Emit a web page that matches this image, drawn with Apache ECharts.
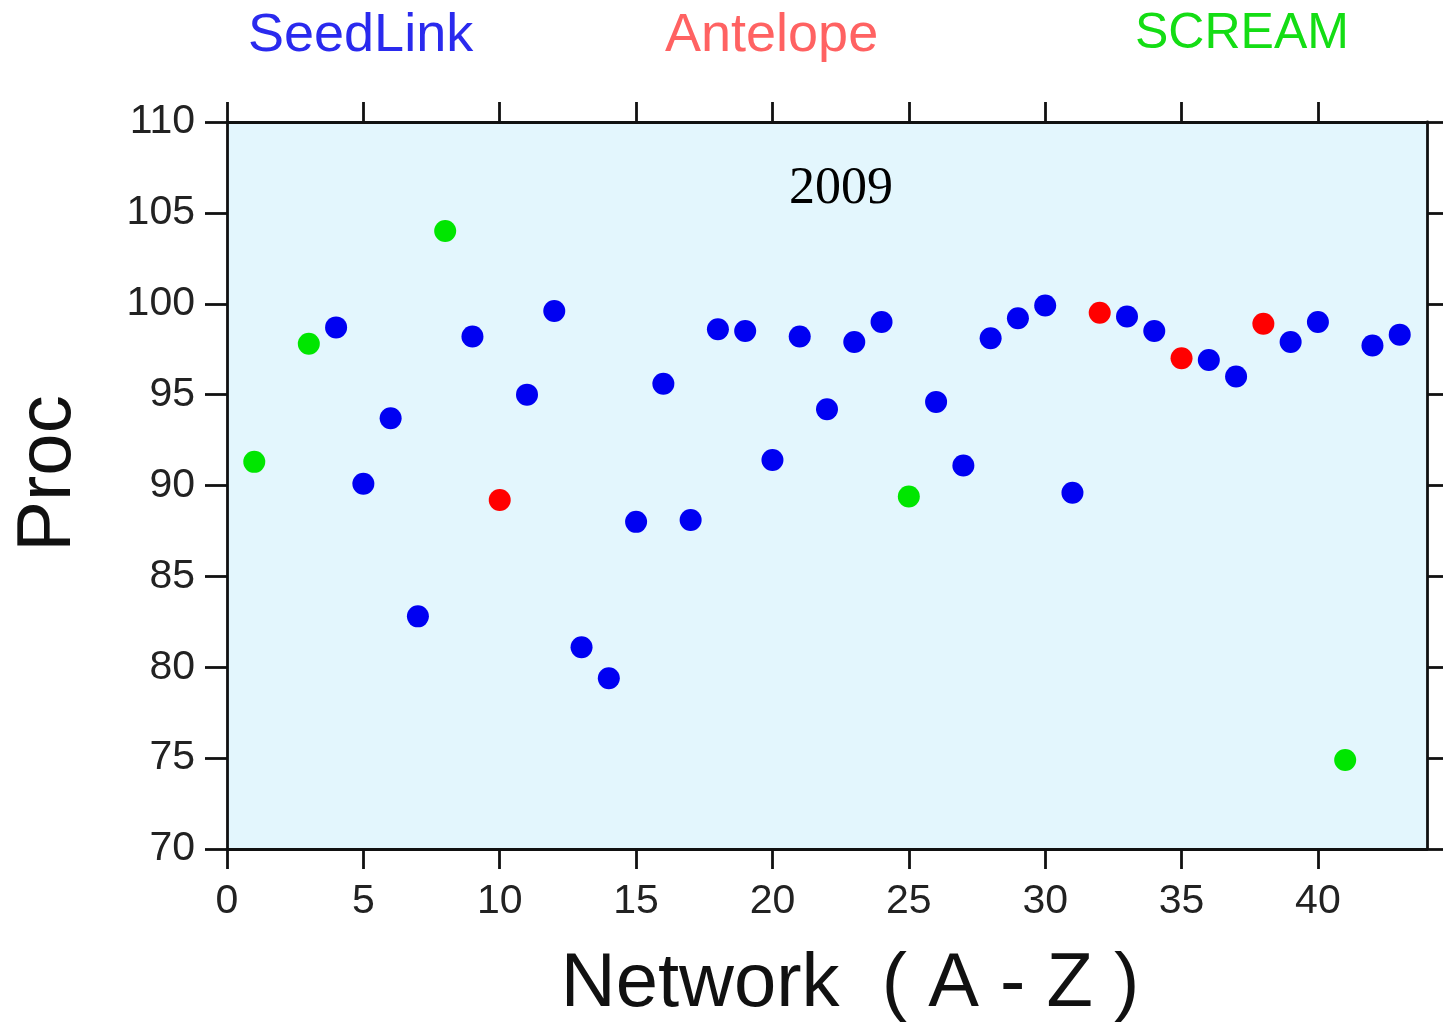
<!DOCTYPE html>
<html>
<head>
<meta charset="utf-8">
<script src="https://cdn.jsdelivr.net/npm/echarts@6/dist/echarts.min.js"></script>
<style>
html,body{margin:0;padding:0;background:#fff;}
#chart{width:1443px;height:1028px;}
</style>
</head>
<body>
<div id="chart"></div>
<script>
// Network index (A - Z order) and processing percentage, 2009
const networkIndex = [1, 3, 4, 5, 6, 7, 8, 9, 10, 11, 12, 13, 14, 15, 16, 17, 18, 19, 20, 21, 22,
  23, 24, 25, 26, 27, 28, 29, 30, 31, 32, 33, 34, 35, 36, 37, 38, 39, 40, 41, 42, 43];
const procValues = [91.3, 97.8, 98.7, 90.1, 93.7, 82.8, 104.0, 98.2, 89.2, 95.0, 99.6, 81.1, 79.4,
  88.0, 95.6, 88.1, 98.6, 98.5, 91.4, 98.2, 94.2, 97.9, 99.0, 89.4, 94.6, 91.1, 98.1, 99.2, 99.9,
  89.6, 99.5, 99.3, 98.5, 97.0, 96.9, 96.0, 98.9, 97.9, 99.0, 74.9, 97.7, 98.3];
const acquisitionSystem = ['SCREAM', 'SCREAM', 'SeedLink', 'SeedLink', 'SeedLink', 'SeedLink', 'SCREAM',
  'SeedLink', 'Antelope', 'SeedLink', 'SeedLink', 'SeedLink', 'SeedLink', 'SeedLink', 'SeedLink',
  'SeedLink', 'SeedLink', 'SeedLink', 'SeedLink', 'SeedLink', 'SeedLink', 'SeedLink', 'SeedLink',
  'SCREAM', 'SeedLink', 'SeedLink', 'SeedLink', 'SeedLink', 'SeedLink', 'SeedLink', 'Antelope',
  'SeedLink', 'SeedLink', 'Antelope', 'SeedLink', 'SeedLink', 'Antelope', 'SeedLink', 'SeedLink',
  'SCREAM', 'SeedLink', 'SeedLink'];
const systems = ['SeedLink', 'Antelope', 'SCREAM'];
const markerColors = ['#0000f2', '#ff0000', '#00e600'];
const legendColors = ['#2a2aee', '#ff6262', '#14dd14'];
const xTickValues = [0, 5, 10, 15, 20, 25, 30, 35, 40];
const yearLabel = '2009';

const font = "'Liberation Sans', Arial, sans-serif";

const series = systems.map((sys, k) => ({
  name: sys,
  type: 'scatter',
  symbol: 'circle',
  symbolSize: 22,
  itemStyle: { color: markerColors[k], opacity: 1 },
  data: networkIndex.map((x, i) => acquisitionSystem[i] === sys ? [x, procValues[i]] : null)
    .filter(d => d !== null)
}));

const legendLefts = [243, 660, 1130];
const legendSizes = [54, 54, 50];
const legends = systems.map((sys, k) => ({
  data: [sys],
  left: legendLefts[k],
  top: 9,
  padding: 0,
  icon: 'none',
  itemWidth: 0,
  itemHeight: 0,
  selectedMode: false,
  textStyle: { color: legendColors[k], fontSize: legendSizes[k], fontFamily: font }
}));

const axisLineStyle = { color: '#111', width: 2.8 };
const tickStyle = { color: '#111', width: 2.8 };

const option = {
  backgroundColor: '#ffffff',
  animation: false,
  title: {
    text: yearLabel,
    left: 836,
    top: 158,
    textAlign: 'center',
    textStyle: { fontFamily: "'Liberation Serif', 'Times New Roman', serif", fontSize: 52, fontWeight: 'normal', color: '#000' }
  },
  legend: legends,
  grid: {
    left: 227, top: 122, right: 16, bottom: 178,
    show: true, backgroundColor: '#e3f6fd', borderWidth: 0
  },
  xAxis: [{
    type: 'value', position: 'bottom', min: 0, max: 44,
    name: 'Network  ( A - Z )', nameLocation: 'middle', nameGap: 98,
    nameTextStyle: { fontFamily: font, fontSize: 76, color: '#111', padding: [0, 0, 0, 46] },
    axisLine: { show: true, onZero: false, lineStyle: axisLineStyle },
    axisTick: { show: true, inside: false, length: 20, customValues: xTickValues, lineStyle: tickStyle },
    axisLabel: { customValues: xTickValues, margin: 32, fontFamily: font, fontSize: 41, color: '#222' },
    splitLine: { show: false }
  }, {
    type: 'value', position: 'top', min: 0, max: 44,
    axisLine: { show: true, onZero: false, lineStyle: axisLineStyle },
    axisTick: { show: true, inside: false, length: 20, customValues: xTickValues, lineStyle: tickStyle },
    axisLabel: { show: false },
    splitLine: { show: false }
  }],
  yAxis: [{
    type: 'value', position: 'left', min: 70, max: 110, interval: 5,
    name: 'Proc', nameLocation: 'middle', nameGap: 140, nameRotate: 90,
    nameTextStyle: { fontFamily: font, fontSize: 76, color: '#111', padding: [0, 0, 0, 24] },
    axisLine: { show: true, onZero: false, lineStyle: axisLineStyle },
    axisTick: { show: true, inside: false, length: 22, lineStyle: tickStyle },
    axisLabel: { margin: 32, fontFamily: font, fontSize: 41, color: '#222' },
    splitLine: { show: false }
  }, {
    type: 'value', position: 'right', min: 70, max: 110, interval: 5,
    axisLine: { show: true, onZero: false, lineStyle: axisLineStyle },
    axisTick: { show: true, inside: false, length: 20, lineStyle: tickStyle },
    axisLabel: { show: false },
    splitLine: { show: false }
  }],
  series: series
};

const chart = echarts.init(document.getElementById('chart'), null, { renderer: 'canvas' });
chart.setOption(option);
</script>
</body>
</html>
